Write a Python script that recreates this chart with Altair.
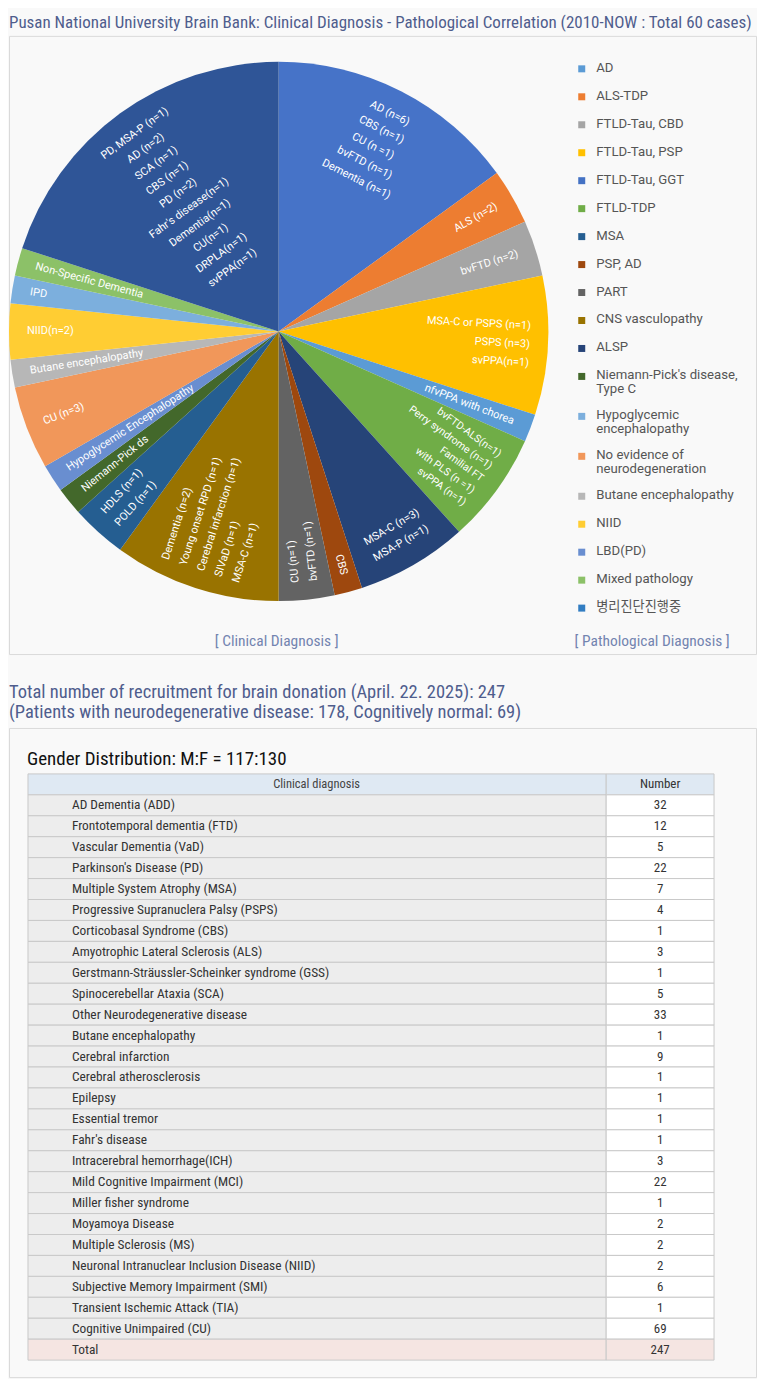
import altair as alt

# ---------------- data ----------------
TITLE = "Pusan National University Brain Bank: Clinical Diagnosis - Pathological Correlation (2010-NOW : Total  60 cases)"

slice_values = [9, 2, 2, 5, 1, 4, 4, 1, 2, 6, 2, 1, 1, 3, 1, 2, 1, 1, 12]
slice_labels = [
    ["AD (n=6)", "CBS (n=1)", "CU (n =1)", "bvFTD (n=1)", "Dementia (n=1)"],
    ["ALS (n=2)"],
    ["bvFTD (n=2)"],
    ["MSA-C or PSPS (n=1)", "PSPS (n=3)", "svPPA(n=1)"],
    ["nfvPPA with chorea"],
    ["bvFTD-ALS(n=1)", "Perry syndrome (n=1)", "Familial FT", "with PLS (n =1)", "svPPA (n=1)"],
    ["MSA-C (n=3)", "MSA-P (n=1)"],
    ["CBS"],
    ["CU (n=1)", "bvFTD (n=1)"],
    ["Dementia (n=2)", "Young onset RPD (n=1)", "Cerebral infarction (n=1)", "SIVaD (n=1)", "MSA-C (n=1)"],
    ["HDLS (n=1)", "POLD (n=1)"],
    ["Niemann-Pick ds"],
    ["Hypoglycemic Encephalopathy"],
    ["CU (n=3)"],
    ["Butane encephalopathy"],
    ["NIID(n=2)"],
    ["IPD"],
    ["Non-Specific Dementia"],
    ["PD, MSA-P (n=1)", "AD (n=2)", "SCA (n=1)", "CBS (n=1)", "PD (n=2)",
     "Fahr's disease(n=1)", "Dementia(n=1)", "CU(n=1)", "DRPLA(n=1)", "svPPA(n=1)"],
]

pathology_labels = [
    ["AD"], ["ALS-TDP"], ["FTLD-Tau, CBD"], ["FTLD-Tau, PSP"], ["FTLD-Tau, GGT"],
    ["FTLD-TDP"], ["MSA"], ["PSP, AD"], ["PART"], ["CNS vasculopathy"], ["ALSP"],
    ["Niemann-Pick's disease,", "Type C"], ["Hypoglycemic", "encephalopathy"],
    ["No evidence of", "neurodegeneration"], ["Butane encephalopathy"], ["NIID"],
    ["LBD(PD)"], ["Mixed pathology"], ["병리진단진행중"],
]

caption_clinical = "[ Clinical Diagnosis ]"
caption_pathological = "[ Pathological Diagnosis ]"

summary_lines = [
    "Total number of recruitment for brain donation (April. 22. 2025): 247",
    "(Patients with neurodegenerative disease: 178, Cognitively normal: 69)",
]
gender_text = "Gender Distribution: M:F = 117:130"
table_header = ["Clinical diagnosis", "Number"]
diagnoses = [
    "AD Dementia (ADD)", "Frontotemporal dementia (FTD)", "Vascular Dementia (VaD)",
    "Parkinson's Disease (PD)", "Multiple System Atrophy (MSA)",
    "Progressive Supranuclera Palsy (PSPS)", "Corticobasal Syndrome (CBS)",
    "Amyotrophic Lateral Sclerosis (ALS)", "Gerstmann-Sträussler-Scheinker syndrome (GSS)",
    "Spinocerebellar Ataxia (SCA)", "Other Neurodegenerative disease", "Butane encephalopathy",
    "Cerebral infarction", "Cerebral atherosclerosis", "Epilepsy", "Essential tremor",
    "Fahr's disease", "Intracerebral hemorrhage(ICH)", "Mild Cognitive Impairment (MCI)",
    "Miller fisher syndrome", "Moyamoya Disease", "Multiple Sclerosis (MS)",
    "Neuronal Intranuclear Inclusion Disease (NIID)", "Subjective Memory Impairment (SMI)",
    "Transient Ischemic Attack (TIA)", "Cognitive Unimpaired (CU)",
]
counts = [32, 12, 5, 22, 7, 4, 1, 3, 1, 5, 33, 1, 9, 1, 1, 1, 1, 3, 22, 1, 2, 2, 2, 6, 1, 69]
total_label = "Total"

# ---------------- styles ----------------
slice_colors = ["#4673C8", "#ED7D31", "#A5A5A5", "#FFC000", "#5B9BD5", "#70AD47", "#264478",
                "#9E480E", "#636363", "#997300", "#255E91", "#43682B", "#698ED0", "#F1975A",
                "#B7B7B7", "#FFCD33", "#7CAFDD", "#8CC168", "#2F5597"]
legend_colors = ["#5B9BD5", "#ED7D31", "#A5A5A5", "#FFC000", "#4472C4", "#70AD47", "#255E91",
                 "#9E480E", "#636363", "#997300", "#264478", "#43682B", "#7CAFDD", "#F1975A",
                 "#B7B7B7", "#FFCD33", "#698ED0", "#8CC168", "#327DC2"]
FONT = "Roboto, Noto Sans CJK KR"
NARROW = "Liberation Sans Narrow, Roboto Condensed, Roboto"
TITLE_COLOR = "#4F5D8D"
CAPTION_COLOR = "#7384B0"
BG = "#F9F9F9"
BOX = "#DADADA"

W = 748
PIE_H = 619
TBL_H = 650
CX, CY, R = 270, 296, 270
LH = 18.5           # line height of slice labels
LH_TIGHT = 15       # tighter line height used in the FTLD-TDP slice
R_RADIAL = 252      # anchor radius of radial labels
R_TANG = 245        # radius of outermost line of tangential labels
LEG_Y0 = 33

# ---------------- pie box ----------------
pie_records = [{"idx": i, "sid": f"s{i:02d}", "value": v, "lines": l}
               for i, (v, l) in enumerate(zip(slice_values, slice_labels))]
sids = [r["sid"] for r in pie_records]
pie = alt.Chart(alt.Data(values=pie_records))

arcs = pie.mark_arc(radius=R).encode(
    theta=alt.Theta("value:Q", stack=True),
    fill=alt.Fill("sid:N", scale=alt.Scale(domain=sids, range=slice_colors), legend=None),
    order=alt.Order("idx:Q", sort="ascending"),
    x=alt.value(CX), y=alt.value(CY),
)

lab = pie.transform_window(
    cum="sum(value)", sort=[alt.SortField("idx", order="ascending")]
).transform_joinaggregate(total="sum(value)").transform_calculate(
    mid="(datum.cum - datum.value / 2) / datum.total * 360",
    n="length(datum.lines)",
    tight="datum.idx == 5",
).transform_calculate(
    tang="indexof([0, 6, 18], datum.idx) >= 0",
    lh=f"datum.tight ? {LH_TIGHT} : {LH}",
).transform_calculate(
    mode="datum.tang ? 'c' : (datum.mid < 170 ? 'r' : 'l')",
    ang0="datum.tang ? ((datum.mid > 90 && datum.mid < 270) ? datum.mid - 180 : datum.mid)"
         " : (datum.mid < 170 ? datum.mid - 90 : datum.mid - 270)",
    rad=f"datum.tang ? {R_TANG} - (datum.n - 1) * datum.lh / 2 : {R_RADIAL}",
    k="(datum.n - 1) * datum.lh / 2",
).transform_calculate(
    ang="(datum.ang0 + 720) % 360",
    px=f"{CX} + datum.rad * sin(datum.mid * PI / 180) + datum.k * sin(datum.ang0 * PI / 180)",
    py=f"{CY} - datum.rad * cos(datum.mid * PI / 180) - datum.k * cos(datum.ang0 * PI / 180)",
)


def label_layer(mode, align, tight, lh, size):
    return lab.transform_filter(f"datum.mode == '{mode}' && datum.tight == {tight}").mark_text(
        align=align, baseline="middle", font=FONT, fontSize=size, lineHeight=lh, color="white"
    ).encode(
        x=alt.X("px:Q", scale=None, axis=None),
        y=alt.Y("py:Q", scale=None, axis=None),
        angle=alt.Angle("ang:Q", scale=None),
        text=alt.Text("lines:N"),
    )


lab_r = label_layer("r", "right", "false", LH, 11)
lab_rt = label_layer("r", "right", "true", LH_TIGHT, 10.5)
lab_l = label_layer("l", "left", "false", LH, 11)
lab_c = label_layer("c", "center", "false", LH, 11)

legend_records = [{"idx": i, "pid": " ".join(l), "lines": l} for i, l in enumerate(pathology_labels)]
pids = [r["pid"] for r in legend_records]
leg = alt.Chart(alt.Data(values=legend_records)).transform_calculate(
    step="16 + 12 * length(datum.lines)"
).transform_window(
    acc="sum(step)", sort=[alt.SortField("idx", order="ascending")]
).transform_calculate(ypos=f"{LEG_Y0} + datum.acc - datum.step")

leg_sq = leg.mark_square(size=49, opacity=1).encode(
    x=alt.value(573.5), y=alt.Y("ypos:Q", scale=None, axis=None),
    color=alt.Color("pid:N", scale=alt.Scale(domain=pids, range=legend_colors), legend=None),
)
leg_txt = leg.mark_text(
    align="left", baseline="top", dy=-7, font=FONT, fontSize=13.2, lineHeight=14, color="#555555"
).encode(x=alt.value(588), y=alt.Y("ypos:Q", scale=None, axis=None), text=alt.Text("lines:N"))

cap1 = alt.Chart(alt.Data(values=[{"t": caption_clinical}])).mark_text(
    align="center", baseline="middle", font=NARROW, fontSize=15.5, color=CAPTION_COLOR
).encode(x=alt.value(268), y=alt.value(606), text="t:N")
cap2 = alt.Chart(alt.Data(values=[{"t": caption_pathological}])).mark_text(
    align="center", baseline="middle", font=NARROW, fontSize=15.5, color=CAPTION_COLOR
).encode(x=alt.value(644), y=alt.value(606), text="t:N")

top = alt.layer(arcs, lab_r, lab_rt, lab_l, lab_c, leg_sq, leg_txt, cap1, cap2).properties(
    width=W, height=PIE_H,
    view=alt.ViewBackground(fill=BG, stroke=BOX, strokeWidth=1),
    title=alt.TitleParams(TITLE, anchor="start", font=NARROW, fontSize=17, fontWeight="normal",
                          color=TITLE_COLOR, offset=4),
)

# ---------------- table box ----------------
table_records = [{"key": "h", "name": table_header[0], "num": table_header[1], "kind": "header"}]
table_records += [{"key": f"r{i:02d}", "name": d, "num": str(c), "kind": "body"}
                  for i, (d, c) in enumerate(zip(diagnoses, counts))]
table_records += [{"key": "total", "name": total_label, "num": str(sum(counts)), "kind": "total"}]
row_keys = [r["key"] for r in table_records]

tbl = alt.Chart(alt.Data(values=table_records))
Y = alt.Y("key:N", scale=alt.Scale(domain=row_keys, range=[46, 633], paddingInner=0, paddingOuter=0),
          axis=None)
fill_sc = alt.Scale(domain=["header_1", "body_1", "total_1", "header_2", "body_2", "total_2"],
                    range=["#DFE9F3", "#EDEDED", "#F5E5E2", "#DFE9F3", "#FFFFFF", "#F5E5E2"])

cell1 = tbl.transform_calculate(fk="datum.kind + '_1'").mark_rect(
    stroke="#C9C9C9", strokeWidth=1
).encode(y=Y, x=alt.value(19), x2=alt.value(598), fill=alt.Fill("fk:N", scale=fill_sc, legend=None))
cell2 = tbl.transform_calculate(fk="datum.kind + '_2'").mark_rect(
    stroke="#C9C9C9", strokeWidth=1
).encode(y=Y, x=alt.value(598), x2=alt.value(706), fill=alt.Fill("fk:N", scale=fill_sc, legend=None))

head_txt = tbl.transform_filter("datum.kind == 'header'").mark_text(
    align="center", baseline="middle", font=NARROW, fontSize=12.5, color="#444444"
).encode(y=Y, x=alt.value(308), text="name:N")
body_txt = tbl.transform_filter("datum.kind != 'header'").mark_text(
    align="left", baseline="middle", font=NARROW, fontSize=13.4, color="#333333"
).encode(y=Y, x=alt.value(63), text="name:N")
num_txt = tbl.mark_text(
    align="center", baseline="middle", font=NARROW, fontSize=13, color="#333333"
).encode(y=Y, x=alt.value(652), text="num:N")

gender = alt.Chart(alt.Data(values=[{"t": gender_text}])).mark_text(
    align="left", baseline="middle", font=NARROW, fontSize=19, color="#111111"
).encode(x=alt.value(18), y=alt.value(31), text="t:N")

bottom = alt.layer(cell1, cell2, head_txt, body_txt, num_txt, gender).properties(
    width=W, height=TBL_H,
    view=alt.ViewBackground(fill=BG, stroke=BOX, strokeWidth=1),
    title=alt.TitleParams(summary_lines, anchor="start", font=NARROW, fontSize=18.5,
                          fontWeight="normal", color=TITLE_COLOR, lineHeight=20.5, offset=6),
)

chart = alt.vconcat(top, bottom, spacing=27).resolve_scale(
    fill="independent", color="independent"
).properties(
    padding={"top": 4, "left": 0, "right": 0, "bottom": 0},
    background=BG,
)

chart.save("out.html", embed_options={"renderer": "svg", "actions": False})
